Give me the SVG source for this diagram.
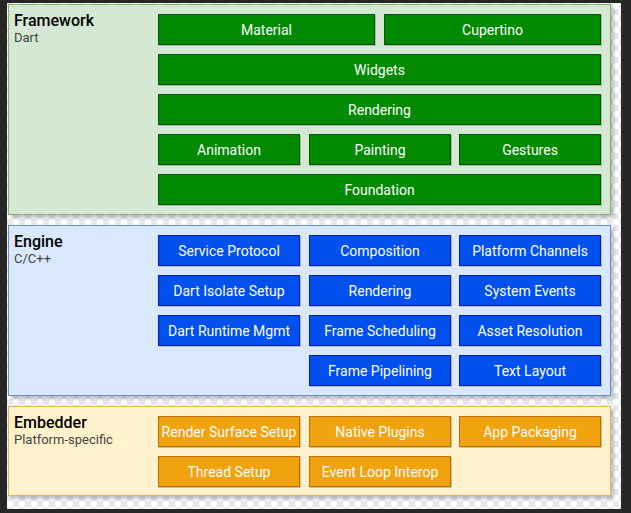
<svg xmlns="http://www.w3.org/2000/svg" width="631" height="513" viewBox="0 0 631 513">
<defs>
<pattern id="checker" x="7" y="3" width="12" height="12" patternUnits="userSpaceOnUse">
<rect width="12" height="12" fill="#ffffff"/>
<rect width="6" height="6" fill="#e9e9e9"/>
<rect x="6" y="6" width="6" height="6" fill="#e9e9e9"/>
</pattern>
<filter id="shadow" x="-5%" y="-5%" width="112%" height="115%">
<feDropShadow dx="3" dy="3" stdDeviation="1.5" flood-color="#2a2a60" flood-opacity="0.28"/>
</filter>
<filter id="nshadow" x="-5%" y="-10%" width="112%" height="130%">
<feDropShadow dx="1" dy="1" stdDeviation="0.6" flood-color="#000000" flood-opacity="0.2"/>
</filter>
</defs>
<style>
.title{font-family:Roboto,"Liberation Sans",sans-serif;font-size:16px;font-weight:500;fill:#000000}
.sub{font-family:Roboto,"Liberation Sans",sans-serif;font-size:13px;fill:#444444}
.lbl{font-family:Roboto,"Liberation Sans",sans-serif;font-size:14px;fill:#ffffff;text-anchor:middle}
.frame{stroke-width:1;filter:url(#shadow)}
.g{fill:#008a00;stroke:#005700;stroke-width:1;filter:url(#nshadow)}
.b{fill:#0050ef;stroke:#001dbc;stroke-width:1;filter:url(#nshadow)}
.o{fill:#f0a30a;stroke:#bd7000;stroke-width:1;filter:url(#nshadow)}
</style>
<rect width="631" height="513" fill="#272727"/>
<rect x="7" y="3" width="614" height="506" fill="url(#checker)"/>

<g id="framework">
<rect class="frame" x="8.5" y="4.5" width="602" height="210" fill="#d5e8d4" stroke="#82b366"/>
<text class="title" x="14" y="26">Framework</text>
<text class="sub" x="14" y="42">Dart</text>
</g>
<g id="engine">
<rect class="frame" x="8.5" y="225.5" width="602" height="170" fill="#dae8fc" stroke="#6c8ebf"/>
<text class="title" x="14" y="247">Engine</text>
<text class="sub" x="14" y="263">C/C++</text>
</g>
<g id="embedder">
<rect class="frame" x="8.5" y="406.5" width="602" height="89" fill="#fff2cc" stroke="#d6b656"/>
<text class="title" x="14" y="428">Embedder</text>
<text class="sub" x="14" y="444">Platform-specific</text>
</g>

<g id="material"><rect class="g" x="158.5" y="14.5" width="216" height="30"/><text class="lbl" x="266.5" y="34.5">Material</text></g>
<g id="cupertino"><rect class="g" x="384.5" y="14.5" width="216" height="30"/><text class="lbl" x="492.5" y="34.5">Cupertino</text></g>
<g id="widgets"><rect class="g" x="158.5" y="54.5" width="442" height="30"/><text class="lbl" x="379.5" y="74.5">Widgets</text></g>
<g id="rendering-fw"><rect class="g" x="158.5" y="94.5" width="442" height="30"/><text class="lbl" x="379.5" y="114.5">Rendering</text></g>
<g id="animation"><rect class="g" x="158.5" y="134.5" width="141" height="30"/><text class="lbl" x="229" y="154.5">Animation</text></g>
<g id="painting"><rect class="g" x="309.5" y="134.5" width="141" height="30"/><text class="lbl" x="380" y="154.5">Painting</text></g>
<g id="gestures"><rect class="g" x="459.5" y="134.5" width="141" height="30"/><text class="lbl" x="530" y="154.5">Gestures</text></g>
<g id="foundation"><rect class="g" x="158.5" y="174.5" width="442" height="30"/><text class="lbl" x="379.5" y="194.5">Foundation</text></g>

<g id="service-protocol"><rect class="b" x="158.5" y="235.5" width="141" height="30"/><text class="lbl" x="229" y="255.5">Service Protocol</text></g>
<g id="composition"><rect class="b" x="309.5" y="235.5" width="141" height="30"/><text class="lbl" x="380" y="255.5">Composition</text></g>
<g id="platform-channels"><rect class="b" x="459.5" y="235.5" width="141" height="30"/><text class="lbl" x="530" y="255.5">Platform Channels</text></g>
<g id="dart-isolate-setup"><rect class="b" x="158.5" y="275.5" width="141" height="30"/><text class="lbl" x="229" y="295.5">Dart Isolate Setup</text></g>
<g id="rendering-engine"><rect class="b" x="309.5" y="275.5" width="141" height="30"/><text class="lbl" x="380" y="295.5">Rendering</text></g>
<g id="system-events"><rect class="b" x="459.5" y="275.5" width="141" height="30"/><text class="lbl" x="530" y="295.5">System Events</text></g>
<g id="dart-runtime-mgmt"><rect class="b" x="158.5" y="315.5" width="141" height="30"/><text class="lbl" x="229" y="335.5">Dart Runtime Mgmt</text></g>
<g id="frame-scheduling"><rect class="b" x="309.5" y="315.5" width="141" height="30"/><text class="lbl" x="380" y="335.5">Frame Scheduling</text></g>
<g id="asset-resolution"><rect class="b" x="459.5" y="315.5" width="141" height="30"/><text class="lbl" x="530" y="335.5">Asset Resolution</text></g>
<g id="frame-pipelining"><rect class="b" x="309.5" y="355.5" width="141" height="30"/><text class="lbl" x="380" y="375.5">Frame Pipelining</text></g>
<g id="text-layout"><rect class="b" x="459.5" y="355.5" width="141" height="30"/><text class="lbl" x="530" y="375.5">Text Layout</text></g>

<g id="render-surface-setup"><rect class="o" x="158.5" y="416.5" width="141" height="30"/><text class="lbl" x="229" y="436.5">Render Surface Setup</text></g>
<g id="native-plugins"><rect class="o" x="309.5" y="416.5" width="141" height="30"/><text class="lbl" x="380" y="436.5">Native Plugins</text></g>
<g id="app-packaging"><rect class="o" x="459.5" y="416.5" width="141" height="30"/><text class="lbl" x="530" y="436.5">App Packaging</text></g>
<g id="thread-setup"><rect class="o" x="158.5" y="456.5" width="141" height="30"/><text class="lbl" x="229" y="476.5">Thread Setup</text></g>
<g id="event-loop-interop"><rect class="o" x="309.5" y="456.5" width="141" height="30"/><text class="lbl" x="380" y="476.5">Event Loop Interop</text></g>

<g id="connectors"></g>
</svg>
